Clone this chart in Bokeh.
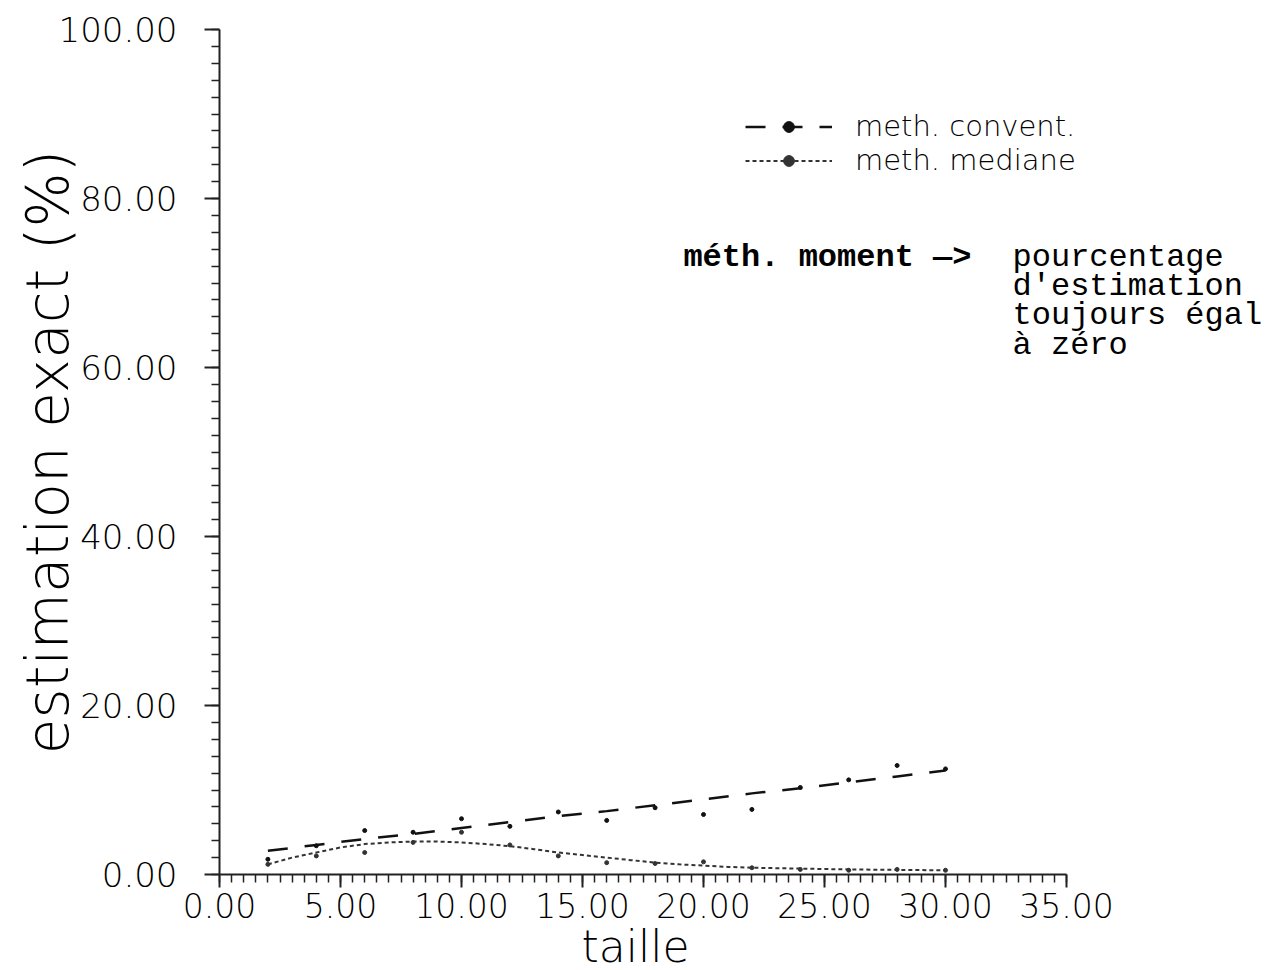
from bokeh.plotting import figure
from bokeh.models import Range1d, FixedTicker, PrintfTickFormatter, Legend, LegendItem, Label, Title
from bokeh.core.properties import value
from bokeh.embed import file_html
from bokeh.resources import INLINE
import numpy as np

# ---- data ----
taille = [2, 4, 6, 8, 10, 12, 14, 16, 18, 20, 22, 24, 26, 28, 30]
convent_points = [1.8, 3.4, 5.2, 5.0, 6.6, 5.7, 7.4, 6.4, 7.9, 7.1, 7.7, 10.3, 11.2, 12.9, 12.5]
mediane_points = [1.2, 2.2, 2.6, 3.8, 5.0, 3.5, 2.2, 1.4, 1.3, 1.5, 0.8, 0.6, 0.5, 0.6, 0.5]
convent_fit = [2.8, 3.5, 4.2, 4.8, 5.5, 6.2, 6.9, 7.5, 8.2, 8.9, 9.6, 10.2, 10.9, 11.6, 12.3]
mediane_fit_x = [2, 3, 4, 5, 6, 7, 8, 9, 10, 11, 12, 13, 14, 15, 16, 17, 18, 19, 20,
                 21, 22, 23, 24, 25, 26, 27, 28, 29, 30]
mediane_fit = [1.2, 2.0, 2.6, 3.2, 3.6, 3.8, 3.9, 3.9, 3.8, 3.6, 3.35, 3.0, 2.6, 2.3, 2.0,
               1.7, 1.4, 1.2, 1.05, 0.9, 0.8, 0.75, 0.7, 0.65, 0.6, 0.57, 0.55, 0.52, 0.5]
x_major = [0, 5, 10, 15, 20, 25, 30, 35]
y_major = [0, 20, 40, 60, 80, 100]
x_title = "taille"
y_title = "estimation exact (%)"
legend_labels = ["meth. convent.", "meth. mediane"]
note_bold = "méth. moment —>"
note_lines = ["pourcentage", "d'estimation", "toujours égal", "à zéro"]

FONT = "DejaVu Sans Light"
MONO = "Liberation Mono"

# frame runs to the right edge so the note is not clipped; the x axis stops at 35
x_end = 35 * (1266 - 219) / 847.0

p = figure(width=1266, height=970, output_backend="svg", toolbar_location=None,
           x_range=Range1d(0, x_end), y_range=Range1d(0, 100),
           min_border_left=219, min_border_right=0, min_border_top=29, min_border_bottom=96)
p.outline_line_color = None
p.xgrid.visible = False
p.ygrid.visible = False
p.background_fill_color = "white"
p.border_fill_color = "white"

# axes
xa = p.xaxis[0]
xa.bounds = (0, 35)
xa.ticker = FixedTicker(ticks=x_major, minor_ticks=list(np.arange(0, 35.01, 0.5)))
xa.formatter = PrintfTickFormatter(format="%.2f")
xa.major_label_text_font = FONT
xa.major_label_text_font_size = "33px"
xa.major_label_text_color = "black"
xa.major_label_standoff = 5
xa.major_tick_out = 13
xa.major_tick_in = 0
xa.minor_tick_out = 8
xa.minor_tick_in = 0
xa.axis_line_width = 2
xa.major_tick_line_width = 2
xa.minor_tick_line_width = 1.5
xa.axis_line_color = "#222222"
xa.major_tick_line_color = "#222222"
xa.minor_tick_line_color = "#222222"

# x title placed under the axis, centred under the 0-35 span
p.add_layout(Title(text=x_title, align="left", offset=362, standoff=-4,
                   text_font=FONT, text_font_size="44px", text_font_style="normal",
                   text_color="black"), "below")

ya = p.yaxis[0]
ya.ticker = FixedTicker(ticks=y_major, minor_ticks=list(np.arange(0, 100.01, 2)))
ya.formatter = PrintfTickFormatter(format="%.2f")
ya.axis_label = y_title
ya.axis_label_text_font = FONT
ya.axis_label_text_font_size = "58px"
ya.axis_label_text_font_style = "normal"
ya.axis_label_text_color = "black"
ya.axis_label_standoff = -26
ya.major_label_text_font = FONT
ya.major_label_text_font_size = "34px"
ya.major_label_text_color = "black"
ya.major_label_standoff = 27
ya.major_tick_out = 15
ya.major_tick_in = 0
ya.minor_tick_out = 8
ya.minor_tick_in = 0
ya.axis_line_width = 2
ya.major_tick_line_width = 2
ya.minor_tick_line_width = 1.5
ya.axis_line_color = "#222222"
ya.major_tick_line_color = "#222222"
ya.minor_tick_line_color = "#222222"

# series
r_cfit = p.line(taille, convent_fit, line_color="#111111", line_width=2.5, line_dash="20 17")
r_cpts = p.scatter(taille, convent_points, size=4, color="#111111")
r_mfit = p.line(mediane_fit_x, mediane_fit, line_color="#333333", line_width=2, line_dash="4 3")
r_mpts = p.scatter(taille, mediane_points, size=4, color="#333333")

legend = Legend(items=[LegendItem(label=legend_labels[0], renderers=[r_cfit, r_cpts]),
                       LegendItem(label=legend_labels[1], renderers=[r_mfit, r_mpts])],
                location=(526, 697), orientation="vertical",
                glyph_width=87, glyph_height=27, label_height=27, label_standoff=23,
                label_text_font=FONT, label_text_font_size="29px", label_text_color="black",
                padding=0, margin=0, spacing=0,
                border_line_color=None, background_fill_alpha=0)
p.add_layout(legend, "center")

# annotation
p.add_layout(Label(x=19.17, y=73.0, text=note_bold, text_font=MONO, text_font_size="32px",
                   text_font_style="bold", text_color="black", text_baseline="alphabetic"))
for i, t in enumerate(note_lines):
    p.add_layout(Label(x=32.77, y=73.0 - 3.45 * i, text=t, text_font=MONO, text_font_size="32px",
                       text_color="black", text_baseline="alphabetic"))

open("out.html", "w").write(file_html(p, INLINE))
